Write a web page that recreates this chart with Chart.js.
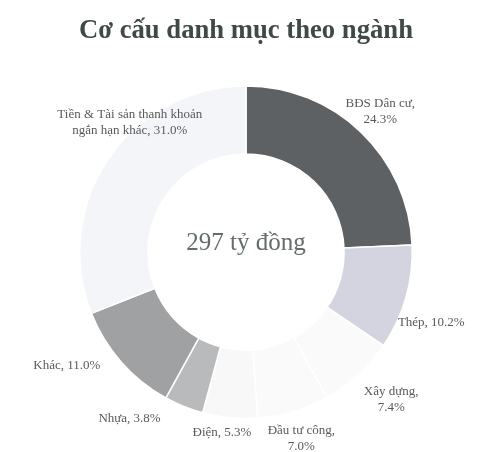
<!DOCTYPE html>
<html>
<head>
<meta charset="utf-8">
<script src="https://cdn.jsdelivr.net/npm/chart.js@4.4.1/dist/chart.umd.min.js"></script>
<style>
  html, body { margin: 0; padding: 0; background: #fff; }
  #wrap { width: 482px; height: 452px; }
</style>
</head>
<body>
<div id="wrap"><canvas id="chart"></canvas></div>
<script>
const labels = [
  ['BĐS Dân cư,', '24.3%'],
  ['Thép, 10.2%'],
  ['Xây dựng,', '7.4%'],
  ['Đầu tư công,', '7.0%'],
  ['Điện, 5.3%'],
  ['Nhựa, 3.8%'],
  ['Khác, 11.0%'],
  ['Tiền & Tài sản thanh khoản', 'ngắn hạn khác, 31.0%']
];
const values = [24.3, 10.2, 7.4, 7.0, 5.3, 3.8, 11.0, 31.0];
const colors = ['#5d6163', '#d3d4e0', '#fafafa', '#f9faf9', '#f8f8f8', '#b9babb', '#a0a1a2', '#f4f5f8'];
const centerText = '297 tỷ đồng';

// label nudges: extra angle (deg) and distance beyond the outer edge (px)
const labelNudge = [
  { da: 0, dr: 28 }, { da: 5, dr: 32 }, { da: -2, dr: 41 }, { da: 0, dr: 28 },
  { da: 2, dr: 16 }, { da: 13, dr: 37 }, { da: 9, dr: 46 }, { da: 14, dr: 8 }
];

const sliceLabels = {
  id: 'sliceLabels',
  afterDraw(chart) {
    const ctx = chart.ctx;
    const arcs = chart.getDatasetMeta(0).data;
    ctx.save();
    ctx.font = '13px "Liberation Serif", serif';
    ctx.fillStyle = '#575a5a';
    ctx.textAlign = 'center';
    ctx.textBaseline = 'middle';
    arcs.forEach((arc, i) => {
      const p = arc.getProps(['x', 'y', 'startAngle', 'endAngle', 'outerRadius'], true);
      const n = labelNudge[i];
      const a = (p.startAngle + p.endAngle) / 2 + n.da * Math.PI / 180;
      const r = p.outerRadius + n.dr;
      const x = p.x + Math.cos(a) * r;
      const y = p.y + Math.sin(a) * r;
      const lines = labels[i];
      const lh = 16;
      lines.forEach((t, k) => {
        ctx.fillText(t, x, y + (k - (lines.length - 1) / 2) * lh);
      });
    });
    const c = arcs[0];
    ctx.font = '25px "Liberation Serif", serif';
    ctx.fillStyle = '#656c6c';
    ctx.fillText(centerText, c.x, c.y - 9);
    ctx.restore();
  }
};

new Chart(document.getElementById('chart'), {
  type: 'doughnut',
  data: {
    labels: labels,
    datasets: [{
      data: values,
      backgroundColor: colors,
      borderColor: '#ffffff',
      borderWidth: 1.5
    }]
  },
  options: {
    responsive: true,
    maintainAspectRatio: false,
    animation: false,
    cutout: '59%',
    layout: { padding: { top: 0, left: 79, right: 69, bottom: 32 } },
    plugins: {
      legend: { display: false },
      tooltip: { enabled: false },
      title: {
        display: true,
        text: 'Cơ cấu danh mục theo ngành',
        color: '#3f4a48',
        font: { family: '"Liberation Serif", serif', size: 27, weight: 'bold', lineHeight: 1.2 },
        padding: { top: 15, bottom: 37 }
      }
    }
  },
  plugins: [sliceLabels]
});
</script>
</body>
</html>
